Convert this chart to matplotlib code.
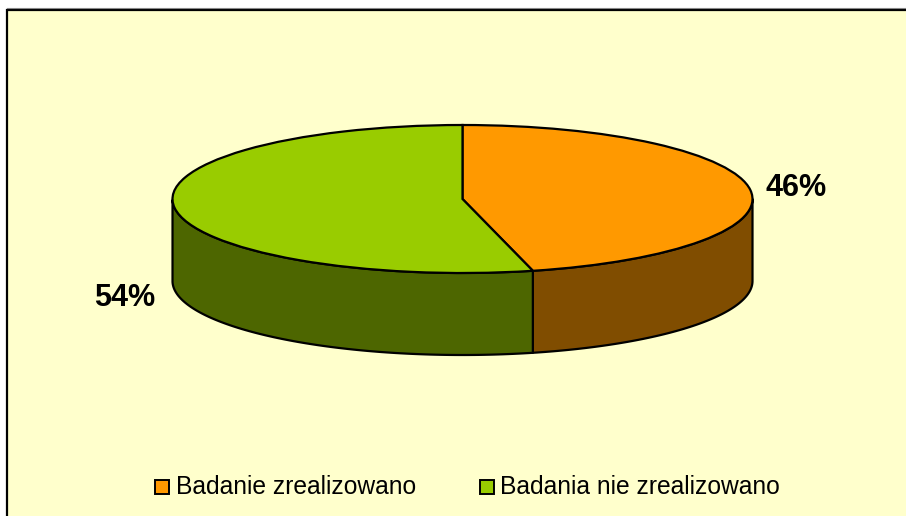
import numpy as np
import matplotlib
matplotlib.use("Agg")
import matplotlib.pyplot as plt

labels = ["Badanie zrealizowano", "Badania nie zrealizowano"]
values = [46.1, 53.9]
top_colors = ["#FF9900", "#99CC00"]
side_colors = ["#804D00", "#4D6600"]
value_labels = ["46%", "54%"]

W, H = 906, 516
cx, cy, rx, ry, depth = 462.5, 199, 290, 74, 82

plt.rcParams["font.family"] = ["Liberation Sans", "DejaVu Sans"]

fig = plt.figure(figsize=(W / 100, H / 100), dpi=100, facecolor="white")

# yellow panel with its black frame, in pixel coordinates
bg = fig.add_axes([0, 0, 1, 1])
bg.set_xlim(0, W)
bg.set_ylim(H, 0)
bg.axis("off")
bg.add_patch(plt.Rectangle((7, 9.5), W, H, fc="#FFFFCC", ec="black", lw=1.6))
bg.plot([7, W], [8, 8], color="#888888", lw=0.8)

# data units: pie radius 1 squashed by the axes scale
ax = fig.add_axes([0, 0, 1, 1])
ax.patch.set_visible(False)
d = depth / ry

# side walls, only the front half of the ellipse shows
angles = 90 - np.cumsum([0] + values) / sum(values) * 360
for i in range(len(values)):
    a0, a1 = angles[i], angles[i + 1]
    t = np.radians(np.linspace(a0, a1, 200))
    t = t[np.sin(t) <= 0]
    if len(t) == 0:
        continue
    x = np.cos(t)
    y = np.sin(t)
    ax.fill(np.r_[x, x[::-1]], np.r_[y, y[::-1] - d], fc=side_colors[i],
            ec="black", lw=1.6, joinstyle="round")

ax.pie(values, colors=top_colors, startangle=90, counterclock=False, radius=1,
       center=(0, 0), wedgeprops=dict(ec="black", lw=1.6))

ax.set_aspect("auto")
ax.set_xlim(-cx / rx, (W - cx) / rx)
ax.set_ylim(-(H - cy) / ry, cy / ry)
ax.axis("off")

bg.set_zorder(0)
ax.set_zorder(1)

ax.text((796 - cx) / rx, (cy - 188.5) / ry, value_labels[0], fontsize=22, fontweight="bold",
        ha="center", va="center")
ax.text((125 - cx) / rx, (cy - 297.5) / ry, value_labels[1], fontsize=22, fontweight="bold",
        ha="center", va="center")

# legend drawn by hand to hit the original spacing
for sx, tx, c, lab in zip([155, 480], [176, 500], top_colors, labels):
    bg.add_patch(plt.Rectangle((sx, 480), 13.5, 13.5, fc=c, ec="black", lw=1.4))
    bg.text(tx, 487, lab, fontsize=17.7, ha="left", va="center", color="black")

fig.savefig("out.png", dpi=100)
